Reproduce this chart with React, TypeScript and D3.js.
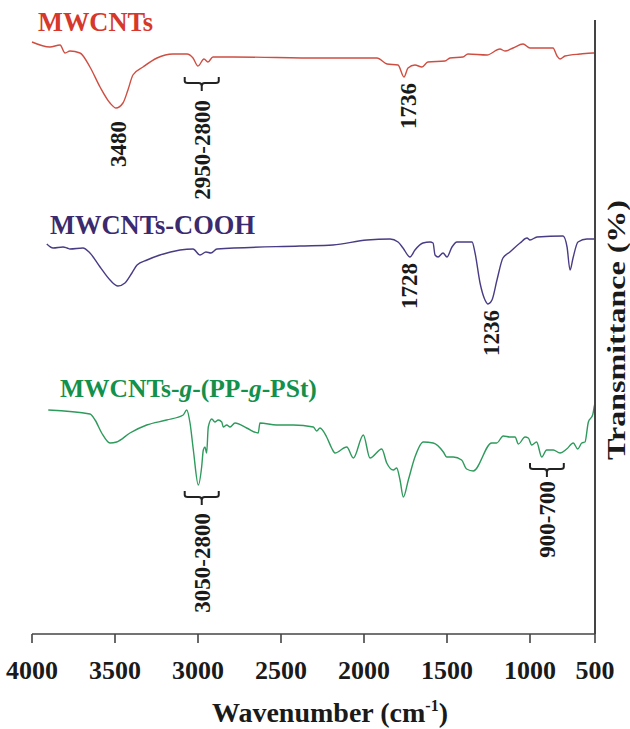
import React from 'react';
import * as d3 from 'd3';

// ---------- data (wavenumber cm-1, transmittance in arbitrary offset units) ----------
const xTicks = [4000, 3500, 3000, 2500, 2000, 1500, 1000, 500];

const mwcnts: [number, number][] = [
  [4000, 592], [3892, 587], [3831, 589], [3801, 581], [3771, 583], [3711, 581], [3651, 567],
  [3590, 547], [3530, 531], [3494, 526], [3452, 531], [3422, 544], [3392, 559], [3331, 567],
  [3247, 576], [3151, 580], [3066, 580], [3030, 576], [3000, 568], [2964, 575], [2940, 572],
  [2910, 577], [2789, 577], [2265, 576], [1922, 576], [1861, 570], [1795, 569], [1759, 557],
  [1735, 566], [1693, 569], [1651, 567], [1615, 572], [1512, 573], [1482, 576], [1404, 577],
  [1374, 580], [1259, 579], [1181, 585], [1151, 583], [1102, 586], [1042, 590], [1000, 586],
  [823, 586], [792, 578], [769, 575], [731, 578], [615, 580], [515, 581], [500, 581],
];

const mwcntsCooh: [number, number][] = [
  [3911, 390], [3873, 386], [3813, 387], [3789, 386], [3771, 385], [3693, 386], [3651, 381],
  [3590, 367], [3530, 354], [3482, 348], [3440, 351], [3398, 361], [3367, 369], [3307, 374],
  [3229, 379], [3108, 384], [3030, 385], [2988, 379], [2952, 382], [2922, 381], [2886, 385],
  [2386, 388], [2187, 389], [1982, 394], [1843, 395], [1795, 392], [1765, 386], [1723, 377],
  [1693, 384], [1645, 391], [1602, 392], [1584, 391], [1572, 379], [1554, 377], [1524, 381],
  [1500, 377], [1470, 387], [1440, 392], [1349, 392], [1331, 381], [1301, 351], [1271, 334],
  [1253, 330], [1229, 334], [1199, 354], [1163, 376], [1121, 382], [1060, 391], [1018, 396],
  [1000, 394], [946, 397], [746, 398], [715, 387], [692, 364], [669, 376], [631, 392],
  [562, 395], [500, 395],
];

const mwcntsGraft: [number, number][] = [
  [3902, 224], [3651, 220], [3620, 214], [3580, 201], [3530, 191], [3490, 192], [3410, 201],
  [3309, 209], [3189, 214], [3089, 219], [3068, 224], [3048, 211], [3028, 184], [2998, 149],
  [2978, 167], [2968, 184], [2958, 187], [2948, 181], [2938, 207], [2917, 215], [2898, 212],
  [2878, 214], [2857, 212], [2848, 207], [2827, 209], [2807, 207], [2777, 211], [2707, 206],
  [2637, 201], [2627, 211], [2526, 209], [2426, 209], [2305, 207], [2285, 203], [2265, 206],
  [2225, 197], [2195, 186], [2175, 181], [2104, 187], [2064, 176], [2004, 199], [1964, 176],
  [1893, 185], [1863, 171], [1823, 164], [1803, 166], [1783, 154], [1763, 137], [1733, 154],
  [1693, 177], [1643, 192], [1583, 191], [1522, 182], [1502, 177], [1462, 177], [1412, 174],
  [1382, 165], [1342, 163], [1231, 191], [1201, 191], [1161, 198], [1120, 197], [1090, 197],
  [1070, 190], [1030, 197], [1010, 196], [987, 189], [949, 192], [910, 177], [872, 184],
  [821, 184], [769, 181], [718, 185], [667, 191], [633, 185], [602, 191], [577, 192],
  [551, 212], [518, 219], [505, 228], [500, 231],
];

const seriesNames = ['MWCNTs', 'MWCNTs-COOH', 'MWCNTs-g-(PP-g-PSt)'];
const seriesData = [mwcnts, mwcntsCooh, mwcntsGraft];

const peakLabels = [
  { series: 0, wn: 3480, text: '3480' },
  { series: 0, wn: 1736, text: '1736' },
  { series: 1, wn: 1728, text: '1728' },
  { series: 1, wn: 1236, text: '1236' },
];

const bandLabels = [
  { series: 0, from: 3080, to: 2875, text: '2950-2800' },
  { series: 2, from: 3080, to: 2875, text: '3050-2800' },
  { series: 2, from: 1000, to: 740, text: '900-700' },
];

// ---------- styles / layout ----------
const W = 630;
const H = 729;
const lineColors = ['#cf4e42', '#4a3b85', '#2e9a5c'];
const textColors = ['#d6382b', '#3b2a6d', '#13904a'];
const peakGaps = [13, 6, 6, 6];
const bandGaps = [11, 6, 6];
const bandLabelGaps = [9, 8, 4];
const FONT = '"Liberation Serif", "Times New Roman", serif';

export default function App() {
  const x = d3.scaleLinear().domain([4000, 1000, 500]).range([32, 530, 595]);
  const y = d3.scaleLinear().domain([0, 614]).range([634, 20]);
  const line = d3
    .line<[number, number]>()
    .x((d) => x(d[0]))
    .y((d) => y(d[1]))
    .curve(d3.curveMonotoneX);

  const minIn = (s: [number, number][], a: number, b: number) => {
    const lo = Math.min(a, b);
    const hi = Math.max(a, b);
    const pts = s.filter((d) => d[0] >= lo && d[0] <= hi);
    return d3.min(pts, (d) => d[1]) as number;
  };

  const axisY = y(0);
  const rightX = x(500);

  const labelPos = [
    { x: 38, y: 31, len: 115, size: 27 },
    { x: 50, y: 234, len: 205, size: 28 },
    { x: 60, y: 397, len: 267, size: 25.5 },
  ];

  return (
    <svg
      width={W}
      height={H}
      style={{ position: 'absolute', left: 0, top: 0, background: '#fff' }}
      fontFamily={FONT}
    >
      {/* curves */}
      {seriesData.map((s, i) => (
        <path key={i} d={line(s) || ''} fill="none" stroke={lineColors[i]} strokeWidth={1.4} />
      ))}

      {/* series labels */}
      {seriesNames.map((name, i) => {
        const p = labelPos[i];
        if (i === 2) {
          return (
            <text key={i} x={p.x} y={p.y} fill={textColors[i]} fontWeight="bold" fontSize={p.size}>
              MWCNTs-<tspan fontStyle="italic">g</tspan>-(PP-<tspan fontStyle="italic">g</tspan>-PSt)
            </text>
          );
        }
        return (
          <text key={i} x={p.x} y={p.y} fill={textColors[i]} fontWeight="bold" fontSize={p.size}
            textLength={p.len} lengthAdjust="spacingAndGlyphs">
            {name}
          </text>
        );
      })}

      {/* peak labels */}
      {peakLabels.map((pk, i) => {
        const s = seriesData[pk.series];
        const top = y(minIn(s, pk.wn - 40, pk.wn + 40)) + peakGaps[i];
        return (
          <text key={i} transform={`translate(${x(pk.wn)},${top}) rotate(-90)`} textAnchor="end"
            dy="0.35em" fontSize={23} fontWeight="bold" fill="#1a1a1a">
            {pk.text}
          </text>
        );
      })}

      {/* band brackets */}
      {bandLabels.map((b, i) => {
        const s = seriesData[b.series];
        const x1 = x(b.from);
        const x2 = x(b.to);
        const xc = (x1 + x2) / 2;
        const t = y(minIn(s, b.from, b.to)) + bandGaps[i];
        const h = t + 6;
        const stem = h + 8;
        const d = `M${x1},${t} L${x1},${h - 2} Q${x1},${h} ${x1 + 3},${h} L${xc - 3},${h} Q${xc},${h} ${xc},${h + 3} L${xc},${stem} M${xc},${h + 3} Q${xc},${h} ${xc + 3},${h} L${x2 - 3},${h} Q${x2},${h} ${x2},${h - 2} L${x2},${t}`;
        return (
          <g key={i}>
            <path d={d} fill="none" stroke="#222" strokeWidth={2} />
            <text transform={`translate(${xc},${stem + bandLabelGaps[i]}) rotate(-90)`} textAnchor="end"
              dy="0.35em" fontSize={23} fontWeight="bold" fill="#1a1a1a">
              {b.text}
            </text>
          </g>
        );
      })}

      {/* axes */}
      <line x1={x(4000)} x2={rightX} y1={axisY} y2={axisY} stroke="#444" strokeWidth={1.6} />
      <line x1={rightX} x2={rightX} y1={y(614)} y2={axisY} stroke="#444" strokeWidth={2} />
      {xTicks.map((t) => (
        <g key={t}>
          <line x1={x(t)} x2={x(t)} y1={axisY} y2={axisY + 9} stroke="#444" strokeWidth={1.6} />
          <text x={x(t)} y={679} textAnchor="middle" fontSize={26} fontWeight="bold" fill="#1a1a1a">
            {t}
          </text>
        </g>
      ))}
      <text x={330} y={722} textAnchor="middle" fontSize={28} fontWeight="bold" fill="#1a1a1a">
        Wavenumber (cm<tspan fontSize={16} dy={-11}>-1</tspan><tspan dy={11}>)</tspan>
      </text>
      <text transform={`translate(616,330) rotate(-90)`} textAnchor="middle" dy="0.35em" fontSize={26}
        fontWeight="bold" fill="#1a1a1a" textLength={260} lengthAdjust="spacingAndGlyphs">
        Transmittance (%)
      </text>
    </svg>
  );
}
